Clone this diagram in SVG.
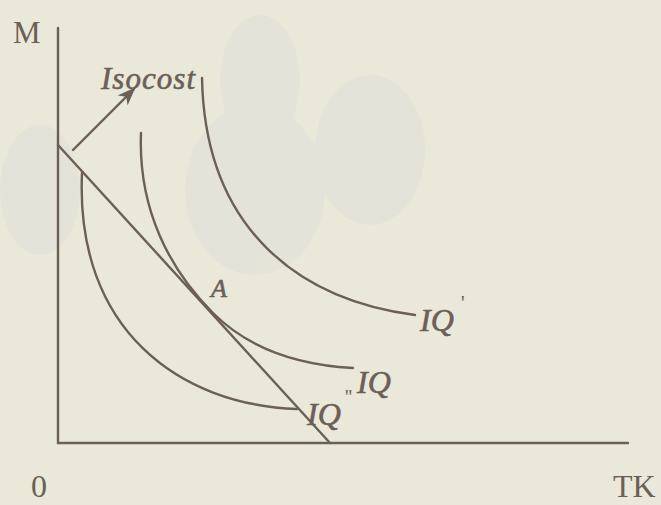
<svg xmlns="http://www.w3.org/2000/svg" width="661" height="505" viewBox="0 0 661 505">
  <defs>
    <marker id="ah" markerWidth="18" markerHeight="14" refX="16" refY="7" orient="auto" markerUnits="userSpaceOnUse" viewBox="0 0 18 14">
      <path d="M0,0 L18,7 L0,14 L5,7 z" fill="#6b5f57"/>
    </marker>
    <style>
      .ln { fill: none; stroke: #6b5f57; stroke-width: 2.4; stroke-linecap: round; }
      .lbl { font-family: "Liberation Serif", "Times New Roman", serif; fill: #6b5f57; }
      .it { font-style: italic; stroke: #6b5f57; stroke-width: 0.6; }
    </style>
  </defs>
  <rect width="661" height="505" fill="#e9e8d9"/>
  <g id="watermark" fill="#dddfd9" opacity="0.45">
    <ellipse cx="260" cy="80" rx="40" ry="65"/>
    <ellipse cx="255" cy="190" rx="70" ry="85"/>
    <ellipse cx="370" cy="150" rx="55" ry="75"/>
    <ellipse cx="40" cy="190" rx="40" ry="65"/>
  </g>
  <g id="axes">
    <line class="ln" x1="58" y1="28" x2="58" y2="443"/>
    <line class="ln" x1="58" y1="443" x2="628" y2="443"/>
    <text class="lbl" x="13" y="43" font-size="31">M</text>
    <text class="lbl" x="31" y="497" font-size="32">0</text>
    <text class="lbl" x="613" y="497" font-size="32">TK</text>
  </g>
  <g id="connectors">
    <line class="ln" x1="58" y1="145" x2="330" y2="443"/>
    <line class="ln" x1="73" y1="150" x2="134" y2="89" marker-end="url(#ah)"/>
  </g>
  <g id="isocost-label">
    <text class="lbl it" x="101" y="89" font-size="31" textLength="94">Isocost</text>
  </g>
  <g id="iq2">
    <path class="ln" d="M82,173 C75,330 180,405 297,409"/>
    <text class="lbl it" x="307" y="425" font-size="32">IQ</text>
    <text class="lbl" x="345" y="404" font-size="20">''</text>
  </g>
  <g id="iq">
    <path class="ln" d="M141,133 C138,210 170,270 213,313 C250,350 300,365 353,368"/>
    <text class="lbl it" x="357" y="393" font-size="32">IQ</text>
  </g>
  <g id="iq1">
    <path class="ln" d="M202,78 C205,230 300,300 415,315"/>
    <text class="lbl it" x="420" y="331" font-size="32">IQ</text>
    <text class="lbl" x="461" y="310" font-size="20">'</text>
  </g>
  <g id="pointA">
    <text class="lbl it" x="211" y="297" font-size="26">A</text>
  </g>
</svg>
